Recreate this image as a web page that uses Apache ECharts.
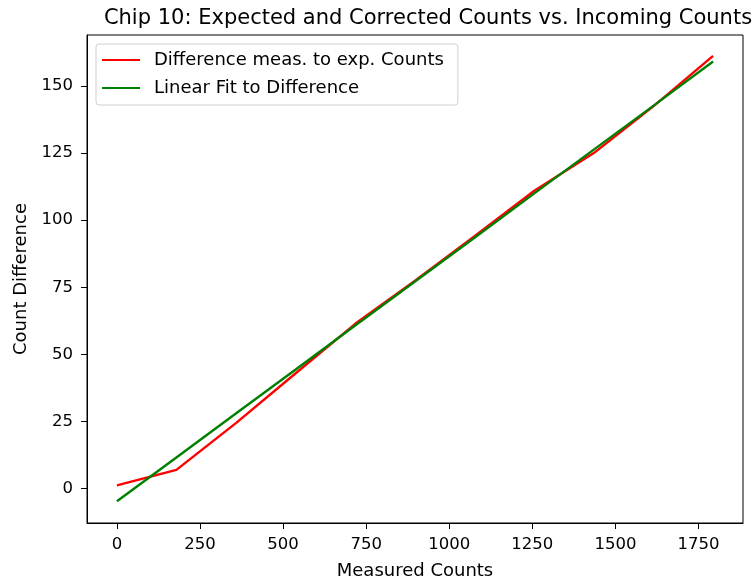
<!DOCTYPE html>
<html>
<head>
<meta charset="utf-8">
<script src="https://cdn.jsdelivr.net/npm/echarts@6/dist/echarts.min.js"></script>
<style>
  html, body { margin: 0; padding: 0; background: #fff; }
  #chart { width: 755px; height: 579px; }
</style>
</head>
<body>
<div id="chart"></div>
<script>
// measured counts (x) and the two curves
const measuredCounts = [0, 179, 359, 538, 718, 897, 1076, 1256, 1435, 1615, 1794]
const countDiff = [1.2, 7.0, 24.5, 43.0, 61.5, 77.5, 94.0, 111.0, 125.0, 142.5, 161.2]
const linearFit = [-4.7, 11.6, 28.1, 44.4, 60.9, 77.2, 93.5, 110.0, 126.3, 142.7, 159.1]

const xTicks = [0, 250, 500, 750, 1000, 1250, 1500, 1750]
const yTicks = [0, 25, 50, 75, 100, 125, 150]

const font = 'DejaVu Sans'

const chart = echarts.init(document.getElementById('chart'))

const pairs = (xs, ys) => xs.map((x, i) => [x, ys[i]])

chart.setOption({
  animation: false,
  textStyle: { fontFamily: font },
  title: {
    text: 'Chip 10: Expected and Corrected Counts vs. Incoming Counts',
    left: 423,
    top: 3,
    textAlign: 'center',
    textStyle: { fontFamily: font, fontSize: 21, fontWeight: 'normal', color: '#000' }
  },
  legend: {
    orient: 'vertical',
    left: 96,
    top: 44,
    padding: [7, 14, 8, 6],
    itemGap: 10,
    itemWidth: 38,
    itemHeight: 2,
    icon: 'rect',
    borderColor: '#d0d0d0',
    borderWidth: 1,
    borderRadius: 3,
    textStyle: { fontFamily: font, fontSize: 18, color: '#000', padding: [0, 0, 0, 9] },
    data: ['Difference meas. to exp. Counts', 'Linear Fit to Difference']
  },
  grid: {
    left: 87,
    right: 12,
    top: 35,
    bottom: 56,
    outerBoundsMode: 'none',
    show: true,
    borderColor: '#000',
    borderWidth: 1
  },
  xAxis: {
    type: 'value',
    min: -90,
    max: 1884,
    name: 'Measured Counts',
    nameLocation: 'middle',
    nameGap: 39,
    nameTextStyle: { fontFamily: font, fontSize: 18, color: '#000' },
    splitLine: { show: false },
    axisLine: { show: true, onZero: false, lineStyle: { color: '#000', width: 1 } },
    axisTick: { show: true, length: 6, customValues: xTicks, lineStyle: { color: '#000' } },
    axisLabel: {
      margin: 13, customValues: xTicks, fontFamily: font, fontSize: 16.5, color: '#000',
      formatter: v => String(v)
    }
  },
  yAxis: {
    type: 'value',
    min: -12.8,
    max: 169,
    name: 'Count Difference',
    nameLocation: 'middle',
    nameGap: 57,
    nameTextStyle: { fontFamily: font, fontSize: 18, color: '#000' },
    splitLine: { show: false },
    axisLine: { show: true, onZero: false, lineStyle: { color: '#000', width: 1 } },
    axisTick: { show: true, length: 6, customValues: yTicks, lineStyle: { color: '#000' } },
    axisLabel: {
      margin: 14, customValues: yTicks, fontFamily: font, fontSize: 16.5, color: '#000',
      formatter: v => String(v)
    }
  },
  series: [
    {
      name: 'Difference meas. to exp. Counts',
      type: 'line',
      data: pairs(measuredCounts, countDiff),
      symbol: 'none',
      color: '#ff0000',
      lineStyle: { color: '#ff0000', width: 2.4 }
    },
    {
      name: 'Linear Fit to Difference',
      type: 'line',
      data: pairs(measuredCounts, linearFit),
      symbol: 'none',
      color: '#008000',
      lineStyle: { color: '#008000', width: 2.4 }
    }
  ]
})
</script>
</body>
</html>
